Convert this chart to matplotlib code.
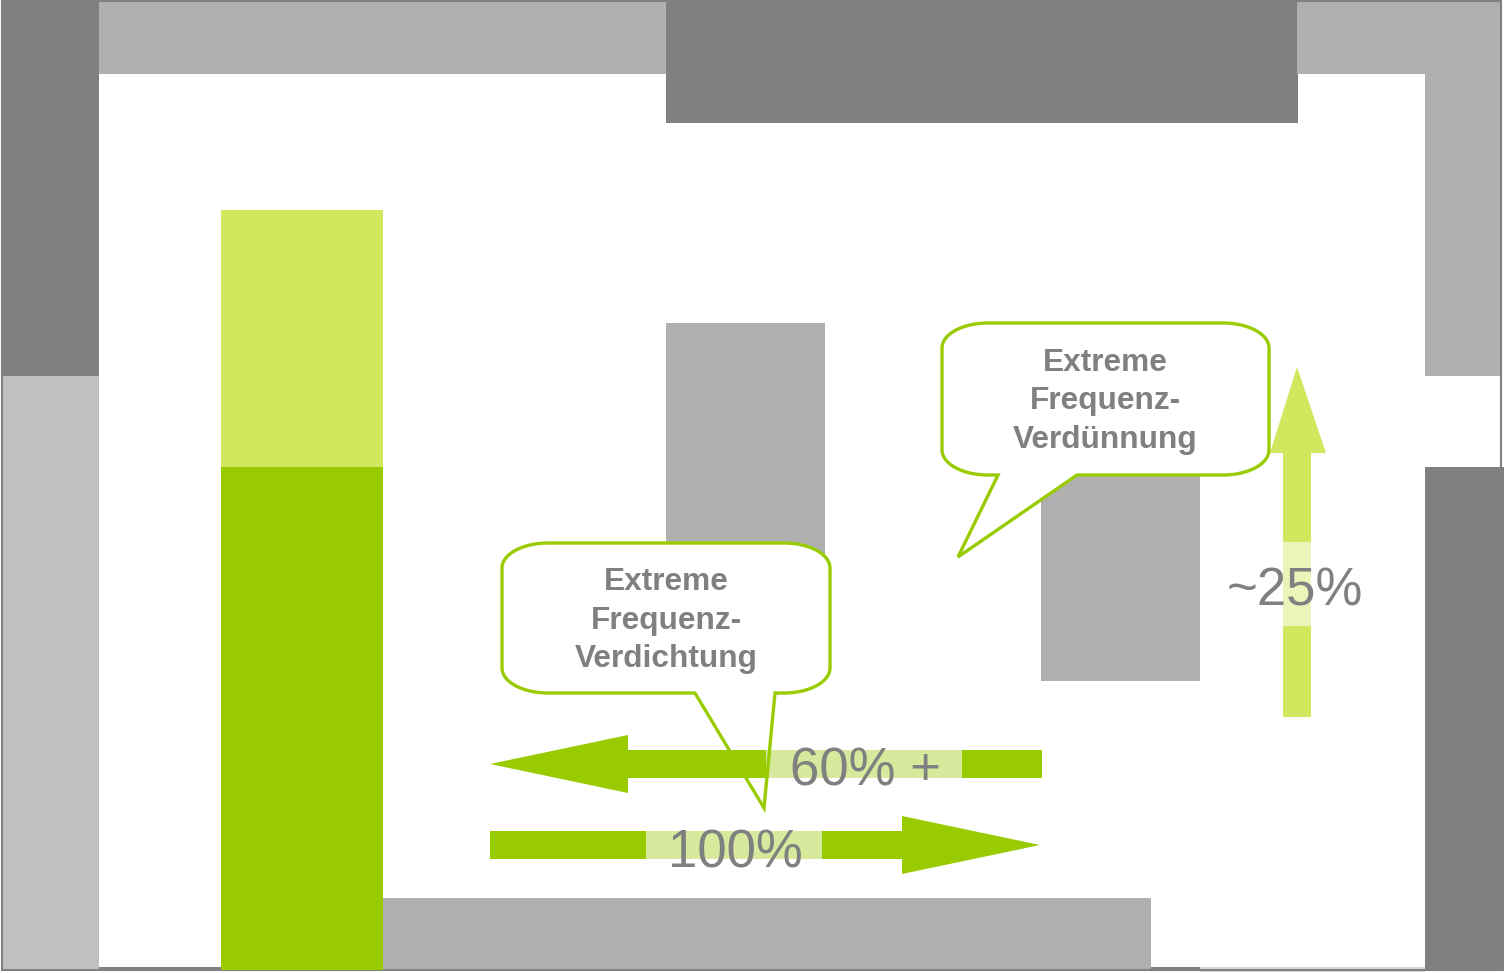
import numpy as np
import matplotlib.pyplot as plt
from matplotlib.patches import Rectangle, Polygon

plt.rcParams['font.family'] = ['Liberation Sans', 'DejaVu Sans']

# canvas in pixel units (y grows downwards)
W, H = 1504, 973
FLOOR = 970

# data
green_stack = [503, 257]            # lower (dark) and upper (light) part of the first bar
gray_tops = [323, 475]              # floating grey bars: top edge
gray_bottoms = [600, 681]           # floating grey bars: bottom edge
arrow_labels = ["60% +", "100%", "~25%"]
callout_texts = [["Extreme", "Frequenz-", "Verdichtung"],
                 ["Extreme", "Frequenz-", "Verdünnung"]]

DARK_GREEN = "#99cc00"
LIGHT_GREEN = "#d2e65e"
LABEL_BG_H = "#d6e99c"
LABEL_BG_V = "#ecf5b9"
GRAY_TXT = "#808080"
DARK = "#808080"
MID = "#b0b0b0"
LIGHT = "#c0c0c0"

fig = plt.figure(figsize=(W / 100, H / 100), dpi=100)
ax = fig.add_axes([0, 0, 1, 1])
ax.set_xlim(0, W)
ax.set_ylim(H, 0)
ax.axis("off")

# frame blocks (x0, y0, x1, y1, colour)
frame = [
    (3, 2, 99, 376, DARK),
    (3, 376, 99, 970, LIGHT),
    (99, 2, 666, 74, MID),
    (666, 2, 1298, 123, DARK),
    (1297, 2, 1501, 74, MID),
    (1425, 74, 1501, 376, MID),
    (1425, 467, 1504, 971, DARK),
    (383, 898, 1151, 970, MID),
    (99, 967, 221, 971, DARK),
    (1151, 967, 1200, 971, DARK),
    (1200, 967, 1425, 972, "#d9d9d9"),
]
for x0, y0, x1, y1, c in frame:
    ax.add_patch(Rectangle((x0, y0), x1 - x0, y1 - y0, color=c, lw=0, zorder=1))
ax.add_patch(Rectangle((2, 1), 1499, 969, fill=False, ec=DARK, lw=1.5, zorder=1))

# bars
ax.bar(302, green_stack[0], width=162, bottom=FLOOR - green_stack[0], color=DARK_GREEN, zorder=2)
ax.bar(302, green_stack[1], width=162, bottom=FLOOR - sum(green_stack), color=LIGHT_GREEN, zorder=2)
for xc, t, b in zip([745.5, 1120.5], gray_tops, gray_bottoms):
    ax.bar(xc, b - t, width=159, bottom=t, color=MID, zorder=2)


def callout(x0, y0, x1, y1, tail, rx=46, ry=25, n=30):
    pts = []
    t = np.linspace(-np.pi / 2, 0, n)
    pts += list(zip(x1 - rx + rx * np.cos(t), y0 + ry + ry * np.sin(t)))
    t = np.linspace(0, np.pi / 2, n)
    pts += list(zip(x1 - rx + rx * np.cos(t), y1 - ry + ry * np.sin(t)))
    pts += [(tail[0], y1), tail[1], (tail[2], y1)]
    t = np.linspace(np.pi / 2, np.pi, n)
    pts += list(zip(x0 + rx + rx * np.cos(t), y1 - ry + ry * np.sin(t)))
    t = np.linspace(np.pi, 1.5 * np.pi, n)
    pts += list(zip(x0 + rx + rx * np.cos(t), y0 + ry + ry * np.sin(t)))
    return np.array(pts)


boxes = [
    (callout(502, 543, 830, 693, (775, (764, 808), 695)), 666, 582),
    (callout(942, 323, 1269, 475, (1077, (958, 557), 998)), 1105, 363),
]
for pts, tx, ty in boxes:
    ax.add_patch(Polygon(pts, closed=True, fc="white", ec="none", zorder=3))


def h_arrow(x_tail, x_tip, yc, label_x0, label_x1, color):
    s = np.sign(x_tip - x_tail)
    base = x_tip - s * 138
    pts = [(x_tail, yc - 14), (base, yc - 14), (base, yc - 29), (x_tip, yc),
           (base, yc + 29), (base, yc + 14), (x_tail, yc + 14)]
    ax.add_patch(Polygon(pts, closed=True, color=color, lw=0, zorder=4))
    ax.add_patch(Rectangle((label_x0, yc - 14), label_x1 - label_x0, 28,
                           color=LABEL_BG_H, lw=0, zorder=4))


h_arrow(1042, 490, 764, 766, 962, DARK_GREEN)
h_arrow(490, 1040, 845, 646, 822, DARK_GREEN)

# vertical arrow
up = [(1283, 717), (1283, 453), (1270, 453), (1297, 367), (1326, 453), (1311, 453), (1311, 717)]
ax.add_patch(Polygon(up, closed=True, color=LIGHT_GREEN, lw=0, zorder=4))
ax.add_patch(Rectangle((1283, 542), 28, 84, color=LABEL_BG_V, lw=0, zorder=4))

# callout outlines on top of the arrows
for pts, tx, ty in boxes:
    ax.add_patch(Polygon(pts, closed=True, fill=False, ec=DARK_GREEN, lw=2.4,
                         joinstyle="miter", zorder=5))

for (pts, tx, ty), lines in zip(boxes, callout_texts):
    for i, line in enumerate(lines):
        ax.text(tx, ty + i * 38.5, line, ha="center", va="center", fontsize=22.8,
                fontweight="bold", color=GRAY_TXT, zorder=6)

for (x, y), lab in zip([(865, 771), (735, 854), (1295, 591)], arrow_labels):
    ax.text(x, y, lab, ha="center", va="center", fontsize=38, color=GRAY_TXT, zorder=6)

fig.savefig("out.png", dpi=100)
